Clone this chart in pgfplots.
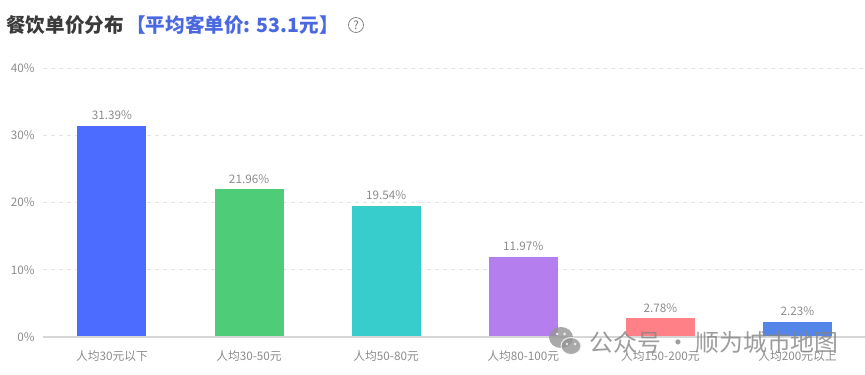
\documentclass[border=0pt]{standalone}
\usepackage{fontspec}
\usepackage{pgfplots}
\pgfplotsset{compat=1.18}
\setmainfont{Noto Sans CJK SC}
\definecolor{tickc}{HTML}{8C8C8C}
\definecolor{titlec}{HTML}{3A3A3A}
\definecolor{bluet}{HTML}{4A68E0}
\begin{document}
\begin{tikzpicture}[x=0.75pt,y=0.75pt]
\useasboundingbox (0,0) rectangle (865,375);
\fill[white] (0,0) rectangle (865,375);
\begin{axis}[
  at={(32.55pt,28.5pt)},anchor=south west,
  scale only axis,
  width=616.95pt,height=201.75pt,
  xmin=-0.5,xmax=5.5,ymin=0,ymax=40,
  axis x line=bottom,axis y line=left,
  axis line style={draw=none},
  xtick={0,1,2,3,4,5},
  xticklabels={人均30元以下,人均30-50元,人均50-80元,人均80-100元,人均150-200元,人均200元以上},
  ytick={0,10,20,30,40},
  yticklabels={0\%,10\%,20\%,30\%,40\%},
  ymajorgrids,
  grid style={draw=black!10,line width=0.6pt,dash pattern=on 2.5pt off 3.5pt},
  major tick length=0pt,
  tick label style={font=\fontsize{8.8}{10}\selectfont,text=tickc},
  xticklabel style={yshift=-7pt},
  yticklabel style={xshift=-3pt},
  clip=false,
  /pgf/number format/assume math mode=true,
  every node near coord/.append style={font=\fontsize{8.8}{10}\selectfont,text=tickc,yshift=1pt},
  nodes near coords={\pgfmathprintnumber[fixed,fixed zerofill,precision=2,assume math mode=true]{\pgfplotspointmeta}\%},
  ybar,bar width=51.75pt,
]
\addplot[bar shift=0pt,fill={rgb,255:red,76;green,107;blue,255},draw=none] coordinates {(0,31.39)};
\addplot[bar shift=0pt,fill={rgb,255:red,79;green,204;blue,120},draw=none] coordinates {(1,21.96)};
\addplot[bar shift=0pt,fill={rgb,255:red,55;green,205;blue,205},draw=none] coordinates {(2,19.54)};
\addplot[bar shift=0pt,fill={rgb,255:red,180;green,126;blue,238},draw=none] coordinates {(3,11.97)};
\addplot[bar shift=0pt,fill={rgb,255:red,255;green,128;blue,134},draw=none] coordinates {(4,2.78)};
\addplot[bar shift=0pt,fill={rgb,255:red,84;green,133;blue,232},draw=none] coordinates {(5,2.23)};
\draw[black!16,line width=0.8pt] (axis cs:-0.5,0) -- (axis cs:5.5,0);
\end{axis}
% title
\node[anchor=west,inner sep=0pt,font=\fontsize{14.7}{16}\selectfont\bfseries,text=titlec] at (6,350) {餐饮单价分布};
\node[anchor=west,inner sep=0pt,font=\fontsize{14.7}{16}\selectfont\bfseries,text=bluet] at (126,350) {【平均客单价: 53.1元】};
\draw[black!55,line width=0.5pt] (356,350) circle (7.5);
\node[inner sep=0pt,font=\fontsize{8.5}{9}\selectfont,text=black!55] at (356,350) {?};
% watermark
\begin{scope}[opacity=0.8]
\fill[black!42] (561,37.5) ellipse (12 and 10.5);
\fill[black!42] (571,29) ellipse (10 and 8.5);
\draw[white,line width=0.8pt] (571,29) ellipse (10 and 8.5);
\fill[white] (557,41) circle (1.5) (564.5,41) circle (1.5) (567,31) circle (1.3) (575,31) circle (1.3);
\node[anchor=west,inner sep=0pt,font=\fontsize{17.9}{19}\selectfont,text=black!48] at (589,33) {公众号 · 顺为城市地图};
\end{scope}
\end{tikzpicture}
\end{document}
